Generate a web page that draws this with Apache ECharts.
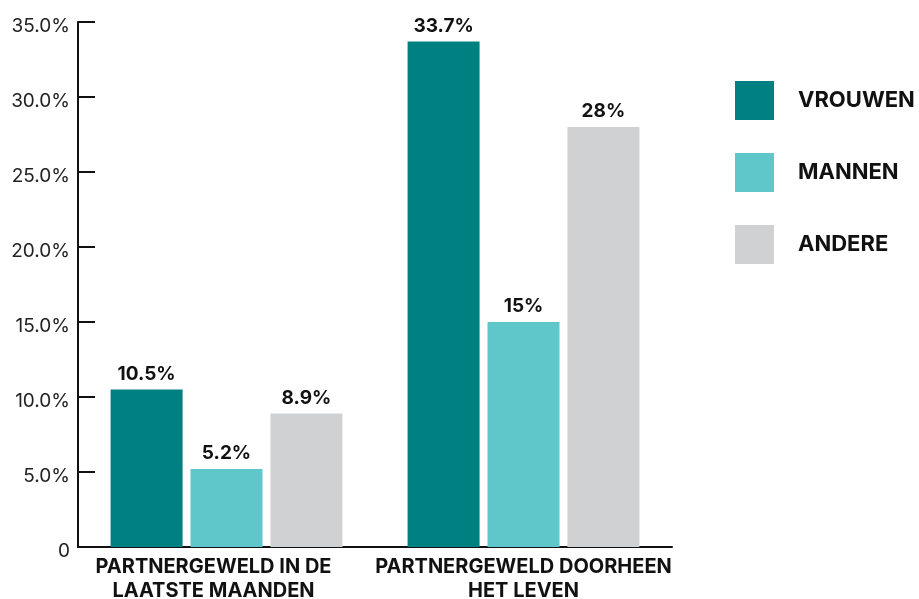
<!DOCTYPE html>
<html>
<head>
<meta charset="utf-8">
<script src="https://cdn.jsdelivr.net/npm/echarts@6/dist/echarts.min.js"></script>
<style>html,body{margin:0;padding:0;background:#fff}#c{width:919px;height:599px}</style>
</head>
<body>
<div id="c"></div>
<script>
var categories = ['PARTNERGEWELD IN DE\nLAATSTE MAANDEN', 'PARTNERGEWELD DOORHEEN\nHET LEVEN'];
var seriesNames = ['VROUWEN', 'MANNEN', 'ANDERE'];
var vrouwen = [10.5, 33.7];
var mannen = [5.2, 15];
var andere = [8.9, 28];
var colors = ['#008080', '#5fc6ca', '#d0d1d3'];
var yTicks = [0, 5, 10, 15, 20, 25, 30, 35];

var FONT = 'Inter';
var chart = echarts.init(document.getElementById('c'), null, {renderer: 'canvas'});
function mk(name, data, color) {
  return {
    name: name, type: 'bar', data: data, barWidth: 72, barGap: '11%',
    itemStyle: {color: color},
    label: {show: true, position: 'top', distance: 6, color: '#111', fontFamily: FONT, fontWeight: 'bold', fontSize: 19,
      formatter: function (p) { return p.value + '%'; }}
  };
}
var catData = categories.map(function (c, i) {
  return i === 0 ? {value: c, textStyle: {padding: [0, 26, 0, 0]}} : {value: c};
});
chart.setOption({
  animation: false,
  textStyle: {fontFamily: FONT},
  grid: {left: 78, right: 247, top: 22, bottom: 52, containLabel: false, outerBoundsMode: 'none'},
  legend: {
    orient: 'vertical', left: 735, top: 81, padding: 0, itemWidth: 39, itemHeight: 39, itemGap: 33,
    icon: 'rect', data: seriesNames,
    textStyle: {fontFamily: FONT, fontWeight: 'bold', fontSize: 22, color: '#111', padding: [0, 0, 0, 19]}
  },
  xAxis: {
    type: 'category', data: catData,
    axisLine: {lineStyle: {color: '#111', width: 2}},
    axisTick: {show: false},
    axisLabel: {color: '#111', fontFamily: FONT, fontWeight: 'bold', fontSize: 20, lineHeight: 24, margin: 8, interval: 0}
  },
  yAxis: {
    type: 'value', min: 0, max: 35, interval: 5,
    axisLine: {show: true, lineStyle: {color: '#111', width: 2}},
    axisTick: {show: true, inside: true, length: 17, lineStyle: {color: '#111', width: 2}},
    splitLine: {show: false},
    axisLabel: {color: '#222', fontFamily: FONT, fontSize: 19, margin: 8, verticalAlign: 'top', lineHeight: 9,
      formatter: function (v) { return yTicks.indexOf(v) === 0 ? '0' : v.toFixed(1) + '%'; }}
  },
  series: [mk(seriesNames[0], vrouwen, colors[0]), mk(seriesNames[1], mannen, colors[1]), mk(seriesNames[2], andere, colors[2])]
});
</script>
</body>
</html>
